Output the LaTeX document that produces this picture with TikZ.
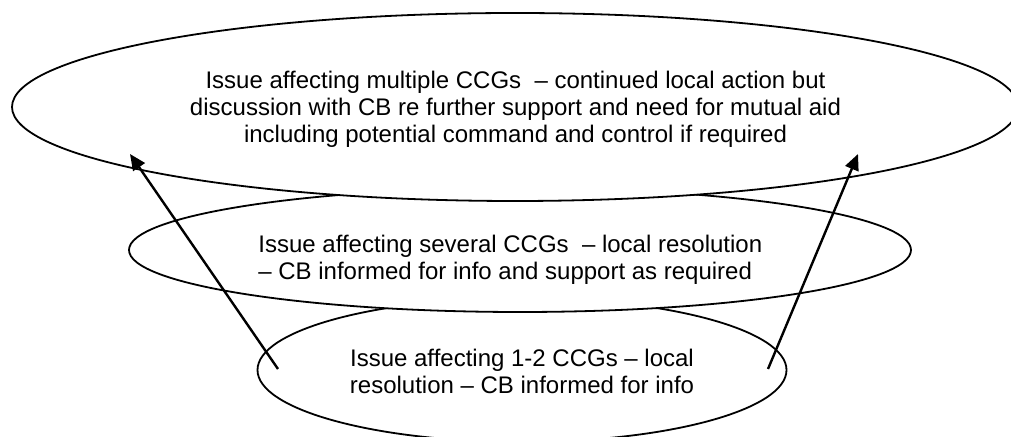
\documentclass[tikz,border=0pt]{standalone}
\usepackage{fontspec}
\setmainfont{Liberation Sans}
\usetikzlibrary{shapes.geometric,arrows.meta}
\begin{document}
\begin{tikzpicture}[x=0.5pt,y=-0.5pt,
  ring/.style={draw, ellipse, fill=white, line width=0.9pt, inner sep=0pt},
  txt/.style={font=\fontsize{12pt}{13.5pt}\selectfont, inner sep=0pt},
  arr/.style={-{Triangle[length=8pt,width=7pt]}, line width=1.2pt}]
\useasboundingbox (0,0) rectangle (1011,437);
\clip (0,0) rectangle (1011,437);
% bottom ellipse
\node[ring, minimum width=264.5pt, minimum height=72pt] (low) at (522,370) {};
\node[txt, align=center] (lowtxt) at (522,371.5) {Issue affecting 1-2 CCGs – local\\resolution – CB informed for info};
% middle ellipse
\node[ring, minimum width=391pt, minimum height=62pt] (mid) at (520,250) {};
\node[txt, align=left, anchor=west] (midtxt) at (258,260) {Issue affecting several CCGs\ \ – local resolution\\– CB informed for info and support as required};
% top ellipse
\node[ring, minimum width=503pt, minimum height=94pt] (big) at (515,107) {};
\node[txt, align=center] (bigtxt) at (515.5,109.5) {Issue affecting multiple CCGs\ \ – continued local action but\\discussion with CB re further support and need for mutual aid\\including potential command and control if required};
% arrows
\coordinate (la) at (278,369);
\coordinate (lb) at (130,154);
\coordinate (ra) at (768,369);
\coordinate (rb) at (858,154);
\draw[arr] (la) -- (lb);
\draw[arr] (ra) -- (rb);
\end{tikzpicture}
\end{document}
